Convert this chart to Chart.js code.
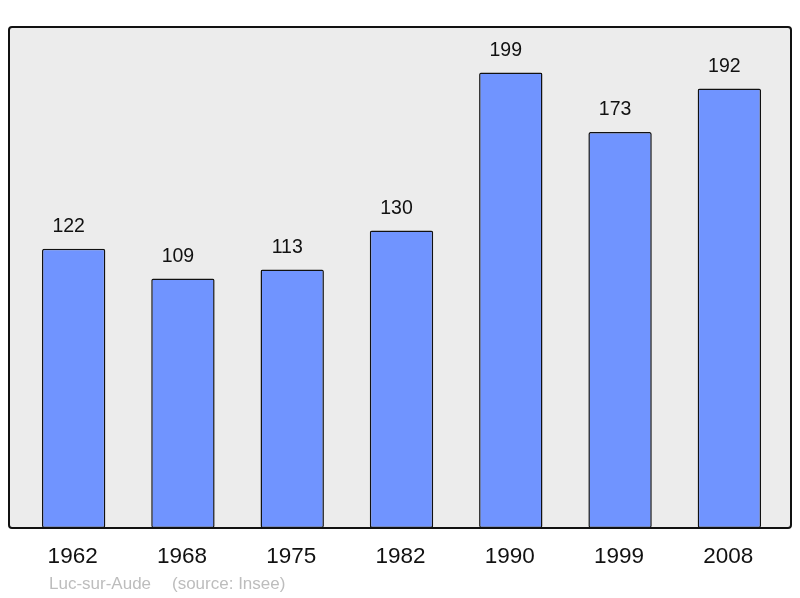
<!DOCTYPE html>
<html>
<head>
<meta charset="utf-8">
<script src="https://cdn.jsdelivr.net/npm/chart.js@4/dist/chart.umd.min.js"></script>
<style>
  html, body { margin: 0; padding: 0; background: #fff; }
  #wrap { width: 800px; height: 598px; }
</style>
</head>
<body>
<div id="wrap"><canvas id="popChart"></canvas></div>
<script>
var years = ["1962", "1968", "1975", "1982", "1990", "1999", "2008"];
var population = [122, 109, 113, 130, 199, 173, 192];
var commune = "Luc-sur-Aude";
var sourceText = "(source: Insee)";

var framePlugin = {
	id: "frame",
	beforeDatasetsDraw: function (chart) {
		var c = chart.ctx, a = chart.chartArea;
		c.save();
		c.fillStyle = "#ececec";
		c.beginPath();
		c.roundRect(a.left - 10, a.top, a.right - a.left + 17, a.bottom - a.top, 3);
		c.fill();
		c.restore();
	},
	afterDatasetsDraw: function (chart) {
		var c = chart.ctx, a = chart.chartArea;
		var x = chart.scales.x, y = chart.scales.y;
		c.save();
		c.strokeStyle = "#111";
		c.lineWidth = 2;
		c.beginPath();
		c.roundRect(a.left - 10, a.top, a.right - a.left + 17, a.bottom - a.top, 3);
		c.stroke();

		c.fillStyle = "#111";
		c.textAlign = "center";
		c.textBaseline = "middle";
		// value labels sit a little left of the bar centre
		c.font = "19.5px 'Liberation Sans', Arial, sans-serif";
		for (var i = 0; i < population.length; i++) {
			c.fillText(String(population[i]), x.getPixelForValue(i) - 5, y.getPixelForValue(population[i]) - 22);
		}
		c.font = "22.5px 'Liberation Sans', Arial, sans-serif";
		for (var j = 0; j < years.length; j++) {
			c.fillText(years[j], x.getPixelForValue(j) - 1, a.bottom + 29);
		}
		c.fillStyle = "#bdbdbd";
		c.textAlign = "left";
		c.font = "17px 'Liberation Sans', Arial, sans-serif";
		c.fillText(commune, 49, 584);
		c.fillText(sourceText, 172, 584);
		c.restore();
	}
};

var ctx = document.getElementById("popChart");
var myChart = new Chart(ctx, {
	type: "bar",
	data: {
		labels: years,
		datasets: [{
			data: population,
			backgroundColor: "#7094ff",
			borderColor: "#111",
			borderWidth: 1.5,
			borderSkipped: false,
			borderRadius: 2,
			barPercentage: 0.58,
			categoryPercentage: 1
		}]
	},
	options: {
		responsive: true,
		maintainAspectRatio: false,
		animation: false,
		layout: { padding: { left: 19, right: 16, top: 27, bottom: 70 } },
		plugins: { legend: { display: false }, tooltip: { enabled: false } },
		scales: {
			x: { display: false },
			y: { display: false, min: 0, max: 218.9 }
		}
	},
	plugins: [framePlugin]
});
</script>
</body>
</html>
